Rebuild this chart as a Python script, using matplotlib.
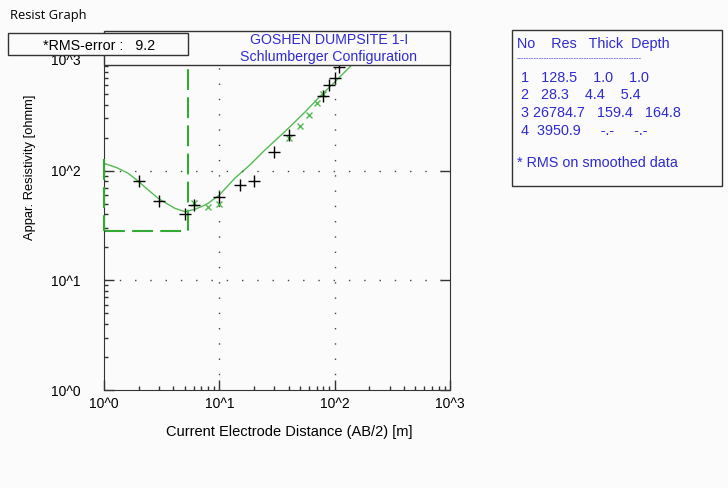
import numpy as np
import matplotlib
matplotlib.use("Agg")
import matplotlib.pyplot as plt
from matplotlib.patches import Rectangle
from matplotlib.ticker import LogLocator, FuncFormatter, NullFormatter
from matplotlib.transforms import blended_transform_factory

# field data (black +)
ab2_field = [2, 3, 5, 6, 10, 15, 20, 30, 40, 80, 90, 100, 110]
rho_field = [80.4, 53.2, 40.2, 48.3, 57.8, 73.9, 80.4, 148.7, 211, 482, 603, 698, 885]

# smoothed data (green x)
ab2_smooth = [6, 8, 10, 40, 50, 60, 70, 80]
rho_smooth = [51, 46.3, 49.6, 197, 255, 319, 411, 499]

# model response curve
ab2_model = [1.0, 1.3, 1.62, 1.96, 2.4, 2.95, 3.5, 4.12, 5.03, 6.14, 7.0, 8.0, 10, 13.6,
             18.4, 25, 38.2, 55, 74.1, 100, 149]
rho_model = [116.6, 106, 94.5, 80.9, 67, 55.9, 50, 45.3, 42.2, 44.4, 47, 50.3, 59.9, 85.1,
             112.5, 155, 234, 340, 472, 640, 977]

# layer model
layer_no = [1, 2, 3, 4]
layer_res = [128.5, 28.3, 26784.7, 3950.9]
layer_thick = ["1.0", "4.4", "159.4", "-.-"]
layer_depth = [1.0, 5.4, 164.8]

rms_error = 9.2
site_title = "GOSHEN DUMPSITE 1-I"
config_title = "Schlumberger Configuration"

W, H = 728, 488
plt.rcParams['font.family'] = ['Liberation Sans', 'DejaVu Sans']
blue = '#2f2bd0'
edge = '#333333'
bg = '#fbfbfb'


def fx(x):
    return x / W


def fy(y):
    return 1 - y / H


fig = plt.figure(figsize=(W / 100, H / 100), dpi=100, facecolor=bg)
ax = fig.add_axes([fx(104), fy(390), fx(450 - 104), (390 - 64.5) / H])
ax.set_facecolor(bg)
ax.set_xscale('log')
ax.set_yscale('log')
ax.set_xlim(1, 1000)
ax.set_ylim(1, 10 ** ((390 - 64.5) / 109.7))

# model step (dashed); first boundary sits on the left spine, draw it over the spine
step_x = list(np.repeat(layer_depth, 2)) + [1000]
step_y = list(np.repeat(layer_res, 2)[1:-1]) + [layer_res[-1]]
ax.plot(step_x[:2], step_y[:2], color='#33aa33', lw=1.5, dashes=(10, 3.5), clip_on=False,
        zorder=4)
ax.plot(step_x[1:], step_y[1:], color='#33aa33', lw=1.5, dashes=(10, 3.5))

ax.plot(ab2_model, rho_model, color='#55bb55', lw=1.0)
ax.plot(ab2_smooth, rho_smooth, ls='none', marker='x', ms=5, mew=1.0, color='#55bb55')
ax.plot(ab2_field, rho_field, ls='none', marker='+', ms=8, mew=1.0, color='black')

# dotted grid
for v in [10, 100]:
    ax.axvline(v, color='#444444', lw=1.0, ls=(0, (1, 10)))
    ax.axhline(v, color='#444444', lw=1.0, ls=(0, (1, 10)))

for s in ax.spines.values():
    s.set_color(edge)
ax.spines['top'].set_visible(False)

ax.xaxis.set_major_locator(LogLocator(base=10, numticks=10))
ax.yaxis.set_major_locator(LogLocator(base=10, numticks=10))
ax.xaxis.set_minor_locator(LogLocator(base=10, subs=np.arange(2, 10), numticks=10))
ax.yaxis.set_minor_locator(LogLocator(base=10, subs=np.arange(2, 10), numticks=10))
fmt = FuncFormatter(lambda v, _: "10^%d" % int(round(np.log10(v))))
ax.xaxis.set_major_formatter(fmt)
ax.yaxis.set_major_formatter(fmt)
ax.xaxis.set_minor_formatter(NullFormatter())
ax.yaxis.set_minor_formatter(NullFormatter())
ax.tick_params(which='major', direction='in', length=7, width=1, color=edge,
               left=True, right=True, bottom=True, top=False, labelsize=10)
ax.tick_params(which='minor', direction='in', length=3, width=1, color=edge,
               left=True, right=False, bottom=True, top=False)
ax.tick_params(axis='y', which='major', pad=17)
ax.tick_params(axis='x', which='major', pad=5)

tr = blended_transform_factory(ax.transAxes, ax.transData)
ax.text(-23 / 346, 1000, "10^3", transform=tr, ha='right', va='center', fontsize=10,
        clip_on=False)

fig.text(fx(30), fy(167), "Appar. Resistivity [ohmm]", rotation=90, ha='center',
         va='center', fontsize=9.3)
fig.text(fx(289), fy(432), "Current Electrode Distance (AB/2) [m]", ha='center',
         va='center', fontsize=10.5)

# header box
fig.patches.append(Rectangle((fx(104), fy(64.5)), fx(450 - 104), (64.5 - 31) / H,
                             transform=fig.transFigure, facecolor=bg, edgecolor=edge, lw=1))
fig.text(fx(329), fy(40), site_title, color=blue, ha='center', va='center', fontsize=10.2)
fig.text(fx(329), fy(57), config_title, color=blue, ha='center', va='center', fontsize=10.2)

# rms box
fig.patches.append(Rectangle((fx(8), fy(55)), fx(180), 22 / H, transform=fig.transFigure,
                             facecolor=bg, edgecolor=edge, lw=1, zorder=3))
fig.text(fx(99), fy(45.5), "*RMS-error :   %.1f" % rms_error, ha='center', va='center',
         fontsize=10.3, zorder=4)

fig.text(fx(10), fy(15), "Resist Graph", ha='left', va='center', fontsize=9.3,
         family=['Open Sans', 'DejaVu Sans'])

# layer table box
fig.patches.append(Rectangle((fx(512), fy(186)), fx(210), 156 / H, transform=fig.transFigure,
                             facecolor=bg, edgecolor=edge, lw=1))
fig.text(fx(517), fy(44), "No    Res   Thick  Depth", color=blue, va='center', fontsize=10.4)
fig.text(fx(517), fy(59), "-" * 50, color=blue, va='center', fontsize=5.5)
depth_txt = ["%.1f" % d for d in layer_depth] + ["-.-"]
row_fmt = [" %d   %.1f    %s    %s", " %d   %.1f    %s    %s", " %d %.1f   %s   %s",
           " %d  %.1f     %s     %s"]
for i in range(4):
    fig.text(fx(517), fy(77.5 + i * 17.7),
             row_fmt[i] % (layer_no[i], layer_res[i], layer_thick[i], depth_txt[i]),
             color=blue, va='center', fontsize=10.4)
fig.text(fx(517), fy(163), "* RMS on smoothed data", color=blue, va='center', fontsize=10.4)

fig.savefig("out.png", dpi=100, facecolor=bg)
